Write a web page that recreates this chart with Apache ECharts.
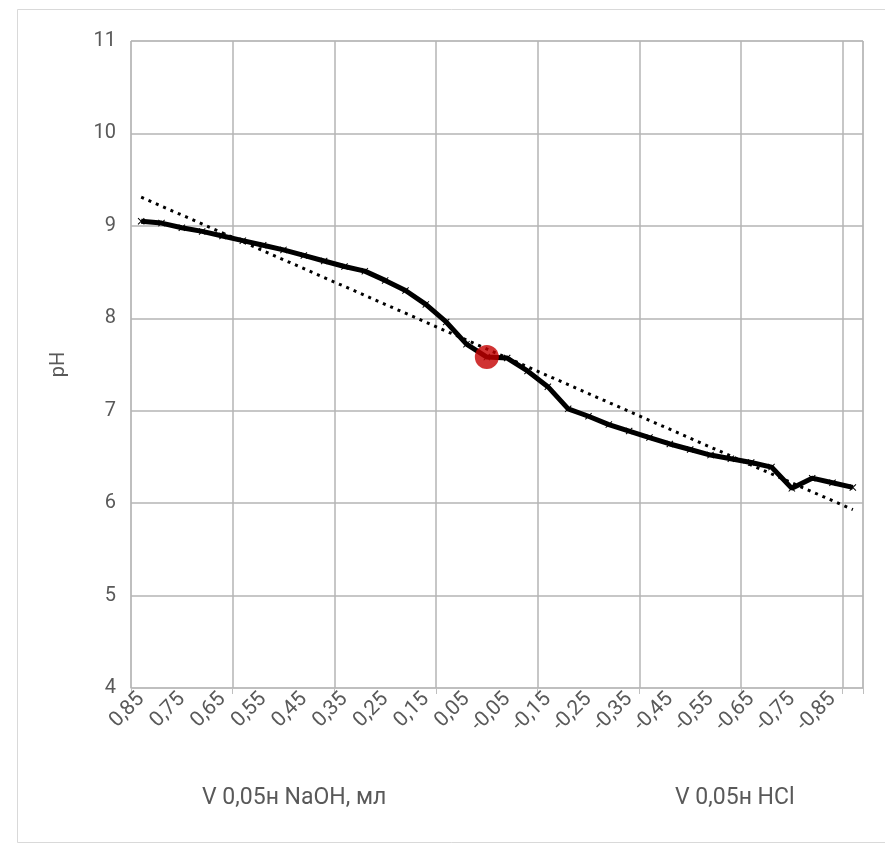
<!DOCTYPE html>
<html>
<head>
<meta charset="utf-8">
<script src="https://cdn.jsdelivr.net/npm/echarts@6/dist/echarts.min.js"></script>
<style>
html,body{margin:0;padding:0;background:#fff;}
#chart{width:885px;height:847px;}
</style>
</head>
<body>
<div id="chart"></div>
<script>
// Categories (volume, ml): positive = NaOH, negative = HCl
var categories = [0.85, 0.80, 0.75, 0.70, 0.65, 0.60, 0.55, 0.50, 0.45, 0.40, 0.35, 0.30,
  0.25, 0.20, 0.15, 0.10, 0.05, 0.00, -0.05, -0.10, -0.15, -0.20, -0.25, -0.30,
  -0.35, -0.40, -0.45, -0.50, -0.55, -0.60, -0.65, -0.70, -0.75, -0.80, -0.85, -0.90];
// Measured pH
var phValues = [9.05, 9.03, 8.98, 8.94, 8.89, 8.84, 8.79, 8.74, 8.68, 8.62, 8.56, 8.51,
  8.41, 8.30, 8.15, 7.96, 7.72, 7.58, 7.57, 7.43, 7.26, 7.02, 6.94, 6.85,
  6.78, 6.71, 6.64, 6.58, 6.52, 6.48, 6.44, 6.39, 6.16, 6.27, 6.22, 6.17];
// Linear trendline end values
var trendStart = 9.31;
var trendEnd = 5.93;
// Highlighted point
var markCategory = 0.00;
var markPH = 7.58;
// Y ticks
var yMin = 4, yMax = 11, yStep = 1;
var yTitle = 'pH';
var xTitleLeft = 'V 0,05н NaOH, мл';
var xTitleRight = 'V 0,05н HCl';

function fmt(v) { return v.toFixed(2).replace('.', ','); }
var catLabels = categories.map(fmt);
var trendData = categories.map(function (c, i) {
  if (i === 0) return trendStart;
  if (i === categories.length - 1) return trendEnd;
  return null;
});
var markIndex = categories.indexOf(markCategory);

var FONT = "'Liberation Sans Narrow', 'Roboto', sans-serif";
var chart = echarts.init(document.getElementById('chart'), null, {renderer: 'canvas'});
chart.setOption({
  animation: false,
  backgroundColor: '#fff',
  textStyle: {fontFamily: FONT},
  grid: {left: 131, right: 22, top: 41, bottom: 159, show: true, borderColor: '#bfbfbf', borderWidth: 1},
  xAxis: {
    type: 'category',
    data: catLabels,
    boundaryGap: true,
    axisLine: {show: true, lineStyle: {color: '#bfbfbf', width: 1}},
    axisTick: {show: true, interval: 4, length: 6, lineStyle: {color: '#bfbfbf'}},
    axisLabel: {interval: 1, rotate: 45, fontSize: 21, color: '#595959', fontFamily: FONT, margin: 8},
    splitLine: {show: true, interval: 4, lineStyle: {color: '#b4b4b4', width: 1.5}}
  },
  yAxis: {
    type: 'value',
    min: yMin, max: yMax, interval: yStep,
    name: yTitle, nameLocation: 'middle', nameRotate: 90, nameGap: 62,
    nameTextStyle: {fontSize: 20, color: '#595959', fontFamily: FONT},
    axisLine: {show: false},
    axisTick: {show: false},
    axisLabel: {fontSize: 20, color: '#595959', fontFamily: FONT, margin: 15},
    splitLine: {show: true, lineStyle: {color: '#b4b4b4', width: 1.5}}
  },
  series: [
    {
      type: 'line',
      data: phValues,
      lineStyle: {color: '#000', width: 5},
      itemStyle: {color: '#000'},
      symbol: 'path://M0 1L1 0L5 4L9 0L10 1L6 5L10 9L9 10L5 6L1 10L0 9L4 5Z',
      symbolSize: 7,
      showSymbol: true,
      z: 3
    },
    {
      type: 'line',
      data: trendData,
      connectNulls: true,
      showSymbol: false,
      symbol: 'none',
      lineStyle: {color: '#000', width: 3, type: [3, 5], cap: 'butt'},
      z: 4
    },
    {
      type: 'scatter',
      data: [[markIndex, markPH]],
      symbol: 'circle',
      symbolSize: 24,
      itemStyle: {color: '#c40000'},
      z: 5
    }
  ],
  graphic: [
    {type: 'rect', shape: {x: 17.5, y: 9.5, width: 880, height: 833}, style: {fill: null, stroke: '#d9d9d9', lineWidth: 1}, silent: true, z: -1},
    {type: 'text', left: 202, top: 787, style: {text: xTitleLeft, fontSize: 23, fill: '#595959', fontFamily: FONT}},
    {type: 'text', left: 675, top: 787, style: {text: xTitleRight, fontSize: 23, fill: '#595959', fontFamily: FONT}}
  ]
});
</script>
</body>
</html>
